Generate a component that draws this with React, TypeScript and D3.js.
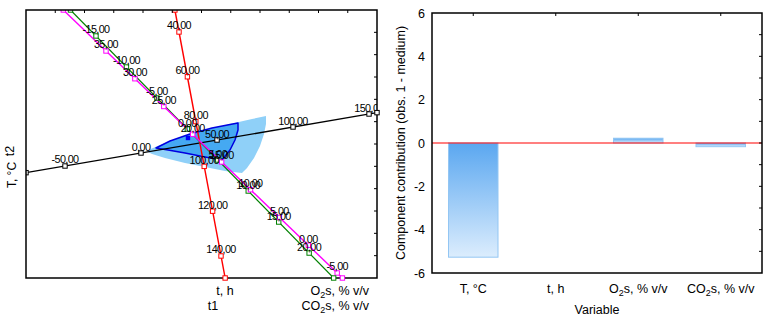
import React from "react";
import * as d3 from "d3";

// ---------- data: left panel (biplot of scores t1/t2 with variable axes) ----------
const tempTicks = [-50, 0, 50, 100, 150];
const timeTicks = [40, 60, 80, 100, 120, 140];
const o2Ticks = [35, 30, 25, 20, 15, 10, 5, 0, -5];
const co2Ticks = [-15, -10, -5, 0, 5, 10, 15, 20];

// each variable axis: reference value, its position in (t1,t2) space, step per unit
const tempAxis = { ref: 0, at: [-2.068, -0.403], step: [0.05197, 0.01164] };
const timeAxis = { ref: 40, at: [-0.769, 5.016], step: [0.01436, -0.1003] };
const o2Axis = { ref: 35, at: [-3.265, 4.165], step: [-0.1976, 0.2485] };
const co2Axis = { ref: -15, at: [-3.607, 4.837], step: [0.2082, -0.2777] };

// confidence regions in (t1,t2)
const outerRegion: [number, number][] = [
  [-1.897, -0.313], [-1.419, -0.045], [-0.735, 0.269], [0.12, 0.582], [0.974, 0.896],
  [1.726, 1.12], [2.205, 1.254], [2.205, 0.896], [2.137, 0.448], [2.0, -0.09],
  [1.795, -0.627], [1.556, -1.075], [1.385, -1.299], [0.803, -1.209], [0.12, -1.03],
  [-0.564, -0.851], [-1.248, -0.627], [-1.692, -0.448],
];
const innerRegion: [number, number][] = [
  [-1.556, -0.179], [-1.077, 0.134], [-0.393, 0.448], [0.359, 0.717], [0.974, 0.873],
  [1.248, 0.94], [1.248, 0.627], [1.145, 0.179], [0.974, -0.269], [0.701, -0.717],
  [0.12, -0.582], [-0.564, -0.403], [-1.145, -0.269],
];
const observation: [number, number] = [-0.462, 0.269];

// ---------- data: right panel ----------
const variables = ["T, °C", "t, h", "O₂s, % v/v", "CO₂s, % v/v"];
const contributions = [-5.27, 0, 0.22, -0.17];
const yTickValues = [-6, -4, -2, 0, 2, 4, 6];

const FONT = "'Liberation Sans', Arial, Helvetica, sans-serif";

function Sub({ text }: { text: string }) {
  const parts = text.split(/(₂)/);
  const out: React.ReactNode[] = [];
  let shifted = false;
  parts.forEach((p, i) => {
    if (p === "₂") {
      out.push(
        <tspan key={i} fontSize="0.72em" dy={3}>
          2
        </tspan>
      );
      shifted = true;
    } else if (p.length) {
      out.push(
        <tspan key={i} dy={shifted ? -3 : 0}>
          {p}
        </tspan>
      );
      shifted = false;
    }
  });
  return <>{out}</>;
}

export default function App() {
  // ---------- left panel ----------
  const L0 = 26, L1 = 377, T0 = 10, T1 = 278;
  const xS = d3.scaleLinear().domain([-6, 6]).range([L0, L1]);
  const yS = d3.scaleLinear().domain([-6, 6]).range([T1, T0]);

  type Ax = { ref: number; at: number[]; step: number[] };
  const pix = (a: Ax, v: number): [number, number] => [
    xS(a.at[0] + (v - a.ref) * a.step[0]),
    yS(a.at[1] + (v - a.ref) * a.step[1]),
  ];
  const vRange = (a: Ax): [number, number] => {
    const p0 = pix(a, 0), p1 = pix(a, 1);
    const dx = p1[0] - p0[0], dy = p1[1] - p0[1];
    let lo = -Infinity, hi = Infinity;
    if (Math.abs(dx) > 1e-9) {
      const t1 = (L0 - p0[0]) / dx, t2 = (L1 - p0[0]) / dx;
      lo = Math.max(lo, Math.min(t1, t2));
      hi = Math.min(hi, Math.max(t1, t2));
    }
    if (Math.abs(dy) > 1e-9) {
      const t1 = (T0 - p0[1]) / dy, t2 = (T1 - p0[1]) / dy;
      lo = Math.max(lo, Math.min(t1, t2));
      hi = Math.min(hi, Math.max(t1, t2));
    }
    return [lo, hi];
  };
  const fmt = (v: number) => d3.format(".2f")(v).replace(".", ",").replace("−", "-");

  const axes = [
    { axis: tempAxis, ticks: tempTicks, color: "#000000", width: 1.4 },
    { axis: timeAxis, ticks: timeTicks, color: "#ff0000", width: 1.4 },
    { axis: co2Axis, ticks: co2Ticks, color: "#008000", width: 1.2 },
    { axis: o2Axis, ticks: o2Ticks, color: "#ff00ff", width: 1.4 },
  ];

  const region = d3
    .line<[number, number]>()
    .x((d) => xS(d[0]))
    .y((d) => yS(d[1]))
    .curve(d3.curveLinearClosed);

  const topTicks = xS.ticks(12).filter((v) => v > -6 && v < 6);
  const sideTicks = yS.ticks(12).filter((v) => v > -6 && v < 6);

  // ---------- right panel ----------
  const R0 = 432, R1 = 762, U0 = 13, U1 = 273;
  const bx = d3.scaleBand<string>().domain(variables).range([R0, R1]).paddingInner(0.4).paddingOuter(0.2);
  const by = d3.scaleLinear().domain([-6, 6]).range([U1, U0]);
  const minor = by.ticks(12).filter((v) => v > -6 && v < 6);

  const sq = 4.4;

  // end points of each variable axis: the near (top/left) one sits under the frame, the far one is drawn whole
  const ends = axes.map((a) => {
    const [lo, hi] = vRange(a.axis);
    const pl = pix(a.axis, lo), ph = pix(a.axis, hi);
    return pl[0] + pl[1] > ph[0] + ph[1] ? { far: pl, near: ph, color: a.color } : { far: ph, near: pl, color: a.color };
  });

  return (
    <svg
      width={765}
      height={317}
      style={{ position: "absolute", left: 0, top: 0, background: "#fff" }}
      fontFamily={FONT}
    >
      <defs>
        <clipPath id="plotClip">
          <rect x={L0} y={T0} width={L1 - L0} height={T1 - T0} />
        </clipPath>
        <linearGradient id="barGrad" x1="0" y1="0" x2="0" y2="1">
          <stop offset="0" stopColor="#5aa7f0" />
          <stop offset="1" stopColor="#dcedfd" />
        </linearGradient>
      </defs>

      {/* ===== left panel ===== */}
      <g clipPath="url(#plotClip)">
        <path d={region(outerRegion) || ""} fill="#8fd0f8" stroke="none" />
        <path d={region(innerRegion) || ""} fill="#45a9f2" stroke="#0000e0" strokeWidth={1.5} strokeLinejoin="round" />
        <rect
          x={xS(observation[0]) - 2.2}
          y={yS(observation[1]) - 2.2}
          width={4.4}
          height={4.4}
          fill="#0000ff"
        />
        {axes.map((a, i) => {
          const [lo, hi] = vRange(a.axis);
          const p = pix(a.axis, lo), q = pix(a.axis, hi);
          return (
            <line key={"l" + i} x1={p[0]} y1={p[1]} x2={q[0]} y2={q[1]} stroke={a.color} strokeWidth={a.width} />
          );
        })}
        {ends.map((e, i) => (
          <rect
            key={"n" + i}
            x={e.near[0] - sq / 2}
            y={e.near[1] - sq / 2}
            width={sq}
            height={sq}
            fill="#fff"
            stroke={e.color}
            strokeWidth={1}
          />
        ))}
        {axes.map((a, i) =>
          a.ticks.map((v) => {
            const p = pix(a.axis, v);
            return (
              <rect
                key={"m" + i + "_" + v}
                x={p[0] - sq / 2}
                y={p[1] - sq / 2}
                width={sq}
                height={sq}
                fill="#fff"
                stroke={a.color}
                strokeWidth={1}
              />
            );
          })
        )}
        {axes.map((a, i) =>
          a.ticks.map((v) => {
            const p = pix(a.axis, v);
            return (
              <text
                key={"t" + i + "_" + v}
                x={p[0]}
                y={p[1] - 2.5}
                textAnchor="middle"
                fontSize={10.8}
                letterSpacing={-0.6}
                fill="#000"
              >
                {fmt(v)}
              </text>
            );
          })
        )}
      </g>
      {/* frame */}
      <rect x={L0} y={T0} width={L1 - L0} height={T1 - T0} fill="none" stroke="#000" strokeWidth={1.5} />
      {ends.map((e, i) => (
        <rect
          key={"f" + i}
          x={e.far[0] - sq / 2}
          y={e.far[1] - sq / 2}
          width={sq}
          height={sq}
          fill="#fff"
          stroke={e.color}
          strokeWidth={1}
        />
      ))}
      {topTicks.map((v) => (
        <line key={"tt" + v} x1={xS(v)} x2={xS(v)} y1={T0} y2={T0 + 3} stroke="#000" strokeWidth={1} />
      ))}
      {sideTicks.map((v) => (
        <line key={"st" + v} x1={L1} x2={L1 - 3} y1={yS(v)} y2={yS(v)} stroke="#000" strokeWidth={1} />
      ))}
      {/* axis titles */}
      <text transform="translate(13.5,151) rotate(-90)" textAnchor="middle" fontSize={12.5}>
        t2
      </text>
      <text transform="translate(16,175) rotate(-90)" textAnchor="middle" fontSize={12}>
        T, °C
      </text>
      <text x={225} y={295} textAnchor="middle" fontSize={12.5}>
        t, h
      </text>
      <text x={213} y={310} textAnchor="middle" fontSize={12.5}>
        t1
      </text>
      <text x={369} y={295} textAnchor="end" fontSize={12.5}>
        <Sub text="O₂s, % v/v" />
      </text>
      <text x={369} y={310} textAnchor="end" fontSize={12.5}>
        <Sub text="CO₂s, % v/v" />
      </text>

      {/* ===== right panel ===== */}
      {variables.map((name, i) => {
        const v = contributions[i];
        if (v === 0) return null;
        const y0 = by(Math.max(0, v));
        const y1 = by(Math.min(0, v));
        return (
          <rect
            key={"b" + name}
            x={bx(name)}
            y={y0}
            width={bx.bandwidth()}
            height={y1 - y0}
            fill="url(#barGrad)"
            stroke="#93c6f3"
            strokeWidth={1}
          />
        );
      })}
      <line x1={R0} x2={R1} y1={by(0)} y2={by(0)} stroke="#ff0000" strokeWidth={1.2} />
      <rect x={R0} y={U0} width={R1 - R0} height={U1 - U0} fill="none" stroke="#000" strokeWidth={1.5} />
      {minor.map((v) => (
        <line key={"rt" + v} x1={R1} x2={R1 - 3} y1={by(v)} y2={by(v)} stroke="#000" strokeWidth={1} />
      ))}
      {variables.map((name) => (
        <line
          key={"ct" + name}
          x1={(bx(name) || 0) + bx.bandwidth() / 2}
          x2={(bx(name) || 0) + bx.bandwidth() / 2}
          y1={U0}
          y2={U0 + 3}
          stroke="#000"
          strokeWidth={1}
        />
      ))}
      {yTickValues.map((v) => (
        <text key={"yl" + v} x={425} y={by(v) + 4.5} textAnchor="end" fontSize={12.5}>
          {v}
        </text>
      ))}
      {variables.map((name) => (
        <text
          key={"xl" + name}
          x={(bx(name) || 0) + bx.bandwidth() / 2}
          y={293}
          textAnchor="middle"
          fontSize={12.5}
        >
          <Sub text={name} />
        </text>
      ))}
      <text x={597} y={314} textAnchor="middle" fontSize={12.5}>
        Variable
      </text>
      <text transform={`translate(405,${(U0 + U1) / 2}) rotate(-90)`} textAnchor="middle" fontSize={12.5}>
        Component contribution (obs. 1 - medium)
      </text>
    </svg>
  );
}
